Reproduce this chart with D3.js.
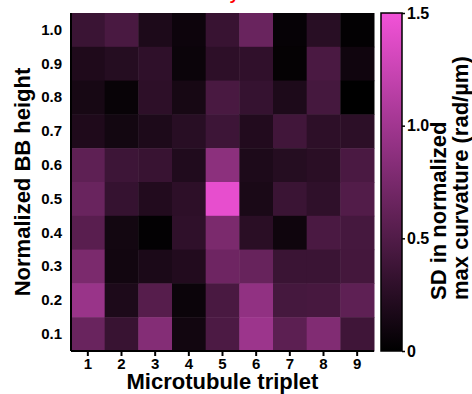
<!DOCTYPE html>
<html>
<head>
<meta charset="utf-8">
<script src="https://cdn.jsdelivr.net/npm/d3@7"></script>
<style>
  html, body { margin: 0; padding: 0; background: #fff; }
  svg { display: block; }
  svg text { font-family: "Liberation Sans", Arial, sans-serif; font-weight: 700; fill: #000; }
</style>
</head>
<body>
<svg id="chart" width="472" height="394"></svg>
<script>
// Microtubule triplets (columns) and normalized basal-body heights (rows, top to bottom)
const triplets = ["1", "2", "3", "4", "5", "6", "7", "8", "9"];
const heights = ["1.0", "0.9", "0.8", "0.7", "0.6", "0.5", "0.4", "0.3", "0.2", "0.1"];

// SD in normalized max curvature (rad/µm), one array per height, triplets 1..9
const h10 = [0.36, 0.45, 0.18, 0.08, 0.35, 0.65, 0.04, 0.25, 0.02];
const h09 = [0.19, 0.23, 0.29, 0.07, 0.28, 0.30, 0.03, 0.46, 0.10];
const h08 = [0.14, 0.05, 0.28, 0.14, 0.45, 0.33, 0.18, 0.43, 0.00];
const h07 = [0.19, 0.12, 0.18, 0.25, 0.38, 0.21, 0.40, 0.28, 0.27];
const h06 = [0.58, 0.38, 0.35, 0.20, 0.87, 0.18, 0.23, 0.26, 0.46];
const h05 = [0.65, 0.33, 0.21, 0.28, 1.43, 0.16, 0.36, 0.29, 0.51];
const h04 = [0.55, 0.12, 0.02, 0.29, 0.76, 0.26, 0.09, 0.46, 0.43];
const h03 = [0.76, 0.11, 0.17, 0.21, 0.68, 0.64, 0.36, 0.36, 0.42];
const h02 = [0.95, 0.18, 0.53, 0.07, 0.45, 0.90, 0.43, 0.44, 0.58];
const h01 = [0.65, 0.35, 0.82, 0.11, 0.47, 0.97, 0.57, 0.80, 0.39];
const rows = [h10, h09, h08, h07, h06, h05, h04, h03, h02, h01];

const colorTicks = [0, 0.5, 1.0, 1.5];
const colorMax = 1.5;

const svg = d3.select("#chart");

const plot = { left: 71, right: 374, top: 13, bottom: 351 };

const x = d3.scaleBand().domain(triplets).range([plot.left, plot.right]);
const y = d3.scaleBand().domain(heights).range([plot.top, plot.bottom]);
const color = d3.scaleLinear()
  .domain([0, colorMax])
  .range(["#000000", "#f252d8"])
  .interpolate(d3.interpolateRgb)
  .clamp(true);

// Flatten to cells
const cells = [];
heights.forEach((h, i) => {
  triplets.forEach((t, j) => cells.push({ h, t, v: rows[i][j] }));
});

// Title (sits at the very top edge)
svg.append("text")
  .attr("x", 239)
  .attr("y", 0)
  .attr("text-anchor", "end")
  .style("fill", "#ff0000")
  .style("font-size", "17px")
  .text("Variability");

// Heatmap cells
svg.append("g")
  .selectAll("rect")
  .data(cells)
  .join("rect")
  .attr("x", d => x(d.t))
  .attr("y", d => y(d.h))
  .attr("width", x.bandwidth() + 0.5)
  .attr("height", y.bandwidth() + 0.5)
  .attr("fill", d => color(d.v));

// Bottom axis
const xAxis = svg.append("g")
  .attr("transform", `translate(0,${plot.bottom})`)
  .call(d3.axisBottom(x).tickSize(5).tickPadding(2));
xAxis.select(".domain").attr("stroke", "#000").attr("stroke-width", 2).attr("d", `M${plot.left},0H${plot.right}`);
xAxis.selectAll(".tick line").attr("stroke", "#000").attr("stroke-width", 2);
xAxis.selectAll("text").style("font-size", "15px");

// Left axis
const yAxis = svg.append("g")
  .attr("transform", `translate(${plot.left},0)`)
  .call(d3.axisLeft(y).tickSize(0).tickPadding(9));
yAxis.select(".domain").attr("stroke", "#000").attr("stroke-width", 2).attr("d", `M0,${plot.top}V${plot.bottom}`);
yAxis.selectAll("text").style("font-size", "15px");

// Axis titles
svg.append("text")
  .attr("x", (plot.left + plot.right) / 2)
  .attr("y", 389)
  .attr("text-anchor", "middle")
  .style("font-size", "22px")
  .text("Microtubule triplet");

svg.append("text")
  .attr("transform", `translate(30,${(plot.top + plot.bottom) / 2}) rotate(-90)`)
  .attr("text-anchor", "middle")
  .style("font-size", "22px")
  .text("Normalized BB height");

// Color bar
const bar = { x: 381, w: 21 };
const cScale = d3.scaleLinear().domain([0, colorMax]).range([plot.bottom, plot.top]);

const defs = svg.append("defs");
const grad = defs.append("linearGradient")
  .attr("id", "cbar")
  .attr("x1", 0).attr("y1", 1).attr("x2", 0).attr("y2", 0);
d3.range(0, 1.0001, 0.1).forEach(f => {
  grad.append("stop").attr("offset", f).attr("stop-color", color(f * colorMax));
});

svg.append("rect")
  .attr("x", bar.x)
  .attr("y", plot.top)
  .attr("width", bar.w)
  .attr("height", plot.bottom - plot.top)
  .attr("fill", "url(#cbar)")
  .attr("stroke", "#000")
  .attr("stroke-width", 1.5);

const cAxis = svg.append("g")
  .attr("transform", `translate(${bar.x + bar.w},0)`)
  .call(d3.axisRight(cScale)
    .tickValues(colorTicks)
    .tickSize(3)
    .tickPadding(2)
    .tickFormat(d => d === 0 ? "0" : d3.format(".1f")(d)));
cAxis.select(".domain").remove();
cAxis.selectAll(".tick line").attr("stroke", "#000").attr("stroke-width", 1.5);
cAxis.selectAll("text").style("font-size", "16px");

// Color bar title, two lines
const cTitle = svg.append("text")
  .attr("transform", `translate(446,300) rotate(-90)`)
  .attr("text-anchor", "start")
  .style("font-size", "22px");
cTitle.append("tspan").attr("x", 0).attr("dy", 0).text("SD in normalized");
cTitle.append("tspan").attr("x", 0).attr("dy", "1.0em").text("max curvature (rad/µm)");
</script>
</body>
</html>
